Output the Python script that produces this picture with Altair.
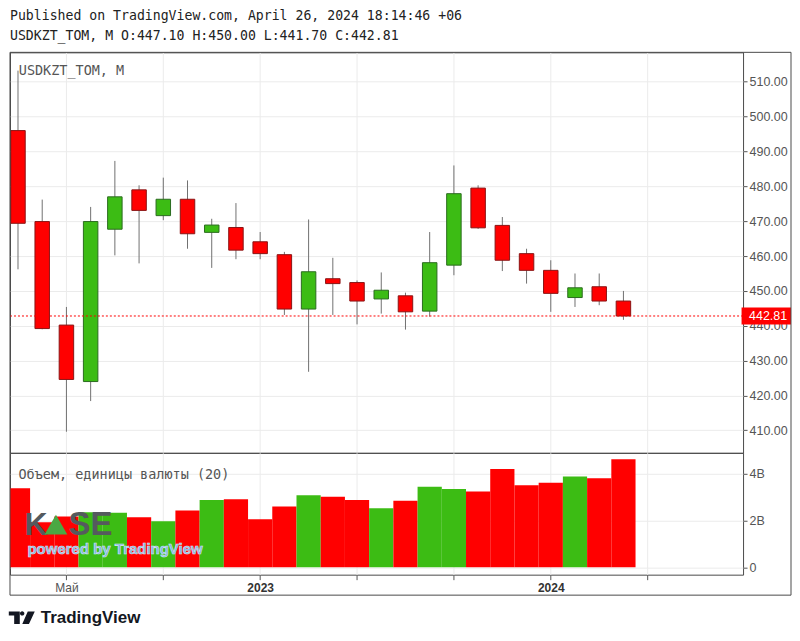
import altair as alt
import pandas as pd

# ---- data ----
months = ["2022-03", "2022-04", "2022-05", "2022-06", "2022-07", "2022-08", "2022-09",
          "2022-10", "2022-11", "2022-12", "2023-01", "2023-02", "2023-03", "2023-04",
          "2023-05", "2023-06", "2023-07", "2023-08", "2023-09", "2023-10", "2023-11",
          "2023-12", "2024-01", "2024-02", "2024-03", "2024-04"]
opens = [496.0, 469.9, 440.2, 424.0, 467.7, 479.0, 471.6, 476.3, 466.8, 468.2, 464.1, 460.4,
         444.8, 453.5, 452.4, 447.7, 448.6, 444.2, 457.4, 479.5, 468.8, 460.7, 455.9, 448.1,
         451.2, 447.10]
highs = [513.2, 476.2, 445.4, 474.1, 487.3, 480.3, 482.5, 481.7, 470.7, 475.2, 466.9, 461.2,
         470.5, 459.5, 453.0, 455.3, 449.5, 466.9, 486.0, 480.3, 471.2, 462.1, 458.8, 455.0,
         455.0, 450.00]
lows = [456.2, 439.0, 409.6, 418.4, 460.2, 457.9, 470.3, 462.1, 456.6, 459.1, 459.1, 443.1,
        426.8, 443.1, 440.4, 443.5, 438.9, 442.6, 454.5, 467.8, 455.7, 452.1, 444.0, 445.4,
        445.9, 441.70]
closes = [469.4, 439.2, 424.6, 469.9, 477.0, 473.1, 476.3, 466.4, 468.9, 461.7, 460.7, 444.8,
          455.5, 452.1, 447.1, 450.2, 444.0, 458.1, 477.9, 468.1, 458.8, 455.9, 449.3, 450.9,
          447.1, 442.81]
volumes_b = [3.38, 1.93, 2.17, 2.35, 2.33, 2.14, 1.97, 2.43, 2.88, 2.91, 2.05, 2.60, 3.08,
             3.02, 2.88, 2.52, 2.85, 3.45, 3.35, 3.24, 4.21, 3.51, 3.62, 3.88, 3.81, 4.62]

x_tick_idx = [2, 6, 10, 14, 18, 22, 26]
x_tick_text = ["Май", "", "2023", "", "", "2024", ""]
year_ticks = [10, 22]
price_ticks = [410, 420, 430, 440, 450, 460, 470, 480, 490, 500, 510]
vol_ticks = [0, 2, 4]
vol_tick_text = ["0", "2B", "4B"]

header1 = "Published on TradingView.com, April 26, 2024 18:14:46 +06"
header2 = "USDKZT_TOM, M O:447.10 H:450.00 L:441.70 C:442.81"
price_title = "USDKZT_TOM, M"
vol_title = "Объем, единицы валюты (20)"

# ---- tables ----
df = pd.DataFrame({"month": months, "open": opens, "high": highs, "low": lows,
                   "close": closes, "volume": volumes_b})
df["idx"] = range(len(df))
df["dir"] = ["up" if c >= o else "down" for o, c in zip(opens, closes)]
df["body_lo"] = [min(o, c) for o, c in zip(opens, closes)]
df["body_hi"] = [max(o, c) for o, c in zip(opens, closes)]

last_df = pd.DataFrame({"price": [closes[-1]], "label": [f"{closes[-1]:.2f}"]})
one = pd.DataFrame({"a": [0]})

MONO = "DejaVu Sans Mono"
SANS = "Liberation Sans"

xscale = alt.Scale(domain=[-0.33, 29.94], nice=False, zero=False, padding=0)
pscale = alt.Scale(domain=[403.55, 518.45], nice=False, zero=False, padding=0)
vscale = alt.Scale(domain=[-0.32, 4.898], nice=False, zero=False, padding=0)
fill_scale = alt.Scale(domain=["up", "down"], range=["#3cbc14", "#ff0000"])
stroke_scale = alt.Scale(domain=["up", "down"], range=["#2b6b1f", "#8a1414"])

x_label_expr = " : ".join(
    [f"datum.value == {v} ? '{t}'" for v, t in zip(x_tick_idx, x_tick_text) if t]) + " : ''"
year_test = " || ".join([f"datum.value == {v}" for v in year_ticks])
vol_label_expr = " : ".join(
    [f"datum.value == {v} ? '{t}'" for v, t in zip(vol_ticks, vol_tick_text)]) + " : ''"

top_x_axis = alt.Axis(values=x_tick_idx, labels=False, ticks=False, domain=False,
                      grid=True, title=None)
bottom_x_axis = alt.Axis(values=x_tick_idx, labelExpr=x_label_expr, grid=True, ticks=True,
                         tickSize=5, domain=False, title=None, labelFontSize=12,
                         labelPadding=3,
                         labelFontWeight={"condition": {"test": year_test, "value": "bold"},
                                          "value": "normal"},
                         labelColor={"condition": {"test": year_test, "value": "#333333"},
                                     "value": "#555555"})
price_axis = alt.Axis(orient="right", values=price_ticks, format=".2f", title=None,
                      grid=True, tickSize=4, labelPadding=2, domain=False)
vol_axis = alt.Axis(orient="right", values=vol_ticks, labelExpr=vol_label_expr, title=None,
                    grid=True, tickSize=4, labelPadding=2, domain=False)

# ---- price panel ----
base = alt.Chart(df)
wick = base.mark_rule(color="#707070", strokeWidth=1).encode(
    x=alt.X("idx:Q", scale=xscale, axis=top_x_axis),
    y=alt.Y("low:Q", scale=pscale, axis=price_axis),
    y2="high:Q",
)
body = base.mark_bar(size=14.5, strokeWidth=1).encode(
    x=alt.X("idx:Q", scale=xscale),
    y=alt.Y("body_lo:Q", scale=pscale),
    y2="body_hi:Q",
    fill=alt.Fill("dir:N", scale=fill_scale, legend=None),
    stroke=alt.Stroke("dir:N", scale=stroke_scale, legend=None),
)
pline = alt.Chart(last_df).mark_rule(color="#ff0000", strokeDash=[2, 2], strokeWidth=1).encode(
    y=alt.Y("price:Q", scale=pscale))
pbox = alt.Chart(last_df).transform_calculate(
    top="datum.price + 2.44", bot="datum.price - 2.44"
).mark_rect(color="#ff0000").encode(
    x=alt.value(732.5), x2=alt.value(782),
    y=alt.Y("top:Q", scale=pscale), y2="bot:Q")
ptext = alt.Chart(last_df).mark_text(color="white", align="left", baseline="middle",
                                     font=SANS, fontSize=12.5).encode(
    x=alt.value(740), y=alt.Y("price:Q", scale=pscale), text="label:N")

ptitle = alt.Chart(one).mark_text(align="left", baseline="middle", font=MONO, fontSize=13.5,
                                  color="#555555", text=price_title).encode(
    x=alt.value(8.8), y=alt.value(18.7))
hdr1 = alt.Chart(one).mark_text(align="left", baseline="middle", font=MONO, fontSize=13.2,
                                color="#222222", text=header1).encode(
    x=alt.value(0), y=alt.value(-36.5))
hdr2 = alt.Chart(one).mark_text(align="left", baseline="middle", font=MONO, fontSize=13.2,
                                color="#222222", text=header2).encode(
    x=alt.value(0), y=alt.value(-16))

top = alt.layer(wick, body, pline, pbox, ptext, ptitle, hdr1, hdr2).properties(
    width=734, height=401)

# ---- volume panel ----
vol = alt.Chart(df).mark_bar(size=24.25, clip=True).encode(
    x=alt.X("idx:Q", scale=xscale, axis=bottom_x_axis),
    y=alt.Y("volume:Q", scale=vscale, axis=vol_axis),
    y2=alt.datum(0),
    fill=alt.Fill("dir:N", scale=fill_scale, legend=None),
)
vtitle = alt.Chart(one).mark_text(align="left", baseline="middle", font=MONO, fontSize=13.5,
                                  color="#555555", text=vol_title).encode(
    x=alt.value(8.5), y=alt.value(22.2))

kase_k = alt.Chart(one).mark_text(align="left", baseline="middle", font=SANS, fontSize=32,
                                  fontWeight="bold", color="#555a5e", text="K").encode(
    x=alt.value(14.5), y=alt.value(72))
kase_tri = alt.Chart(one).mark_point(shape="triangle-up", filled=True, size=520,
                                     color="#4aa843", opacity=1).encode(
    x=alt.value(46), y=alt.value(72))
kase_se = alt.Chart(one).mark_text(align="left", baseline="middle", font=SANS, fontSize=33,
                                   fontWeight="bold", color="#555a5e", text="SE").encode(
    x=alt.value(58.5), y=alt.value(72))
powered = alt.Chart(one).mark_text(align="left", baseline="middle", font=SANS, fontSize=15,
                                   fontWeight="bold", color="#7db0e2", stroke="#d6e6f5",
                                   strokeWidth=0.6, text="powered by TradingView").encode(
    x=alt.value(17.5), y=alt.value(96))

frame = alt.Chart(one).mark_rect(fill="transparent", stroke="#4a4a4a", strokeWidth=1).encode(
    x=alt.value(0), x2=alt.value(782), y=alt.value(-401), y2=alt.value(142.5))

tv_path = ("M -1 -0.488 L -0.154 -0.488 L -0.154 0.488 L -0.585 0.488 L -0.585 -0.181 "
           "L -1 -0.181 Z M 0.2 -0.335 A 0.17 0.17 0 1 1 -0.14 -0.335 "
           "A 0.17 0.17 0 1 1 0.2 -0.335 Z M 0.46 -0.488 L 1 -0.488 L 0.554 0.488 "
           "L 0.038 0.488 Z")
tv_logo = alt.Chart(one).mark_point(shape=tv_path, filled=True, size=676, color="#131722",
                                    opacity=1).encode(
    x=alt.value(11.8), y=alt.value(165.15))
tv_text = alt.Chart(one).mark_text(align="left", baseline="middle", font=SANS, fontSize=17,
                                   fontWeight="bold", color="#131722",
                                   text="TradingView").encode(
    x=alt.value(30.8), y=alt.value(165))

bottom = alt.layer(vol, vtitle, kase_k, kase_tri, kase_se, powered, frame, tv_logo,
                   tv_text).properties(width=734, height=122)

chart = alt.vconcat(top, bottom, spacing=0, bounds="flush").properties(
    padding={"left": 0, "top": 0, "right": 0, "bottom": 0},
    background="white",
).configure_view(
    stroke="#4a4a4a", strokeWidth=1
).configure_axis(
    labelFont=SANS, labelFontSize=12.5, labelColor="#555555", gridColor="#ebebeb",
    tickColor="#555555", domain=False
)

chart.save("out.html", embed_options={"renderer": "svg", "actions": False})
